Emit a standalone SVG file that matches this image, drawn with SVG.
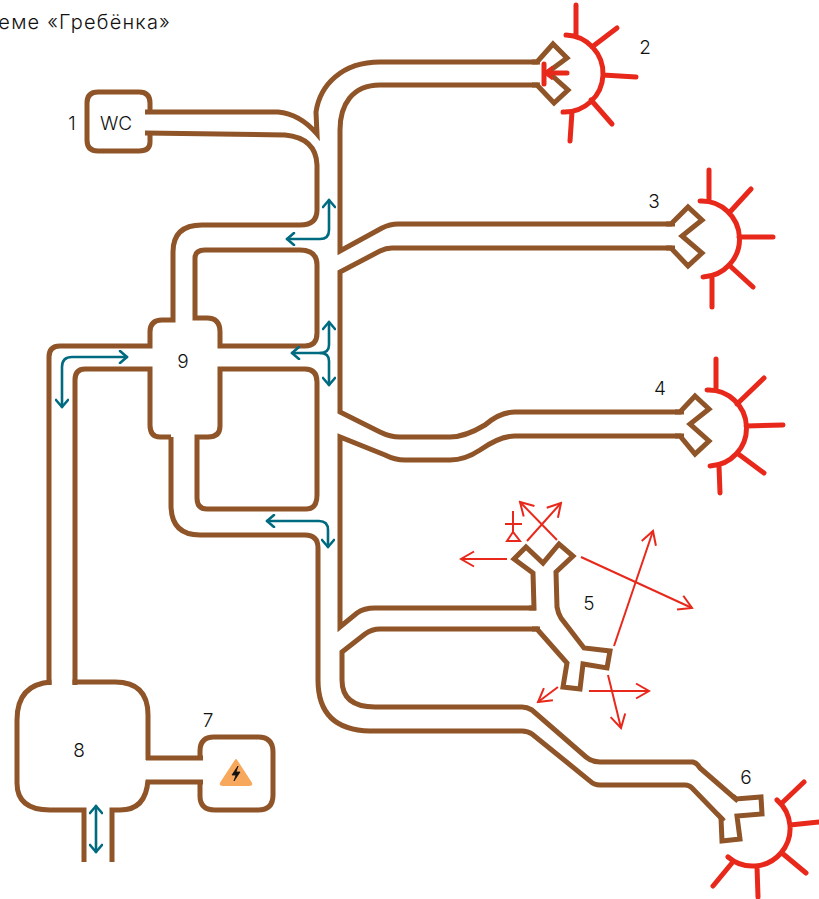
<svg xmlns="http://www.w3.org/2000/svg" width="819" height="899" viewBox="0 0 819 899">
<defs>
<marker id="h" viewBox="0 0 18 18" refX="16" refY="9" markerWidth="18" markerHeight="18" markerUnits="userSpaceOnUse" orient="auto-start-reverse"><path d="M3 1.5L16 9L3 16.5" fill="none" stroke="#E8281A" stroke-width="2"/></marker>
<marker id="t" viewBox="0 0 14 14" refX="12" refY="7" markerWidth="14" markerHeight="14" markerUnits="userSpaceOnUse" orient="auto-start-reverse"><path d="M5 1L12 7L5 13" fill="none" stroke="#006B80" stroke-width="2.6" stroke-linecap="round" stroke-linejoin="round"/></marker>
</defs>
<style>
text{font-family:"Inter","Noto Sans","Liberation Sans",sans-serif;fill:#111;font-size:19px;font-weight:300}
.n{text-anchor:middle}
.p{fill:none;stroke:#8F5427;stroke-width:5;stroke-linejoin:miter}
.r{fill:none;stroke:#E8281A;stroke-width:5;stroke-linecap:round}
.a{fill:none;stroke:#E8281A;stroke-width:2;marker-end:url(#h)}
.t{fill:none;stroke:#006B80;stroke-width:2.6;marker-end:url(#t);stroke-linecap:round}
.ts{marker-start:url(#t)}
</style>
<rect width="819" height="899" fill="#fff"/>
<text x="171" y="29" text-anchor="end" style="font-size:20px;letter-spacing:1.2px">еме «Гребёнка»</text>
<g id="connectors">
<path class="p" d="M145 112L278 112Q300 114 317 134L316 112C320 85 342 62 380 62L540 62"/>
<path class="p" d="M540 85L380 85C352 85 340 105 340 130L340 251L382 228Q390 224 398 224L675 224M675 248L392 248Q386 248 380 251L340 272L340 412L380 432Q390 437 400 437L450 437Q465 437 485 425Q500 412 515 412L684 412M684 436L515 436Q500 436 480 450Q465 460 450 460L405 460Q395 460 385 455L340 437L340 627L357 613Q364 608 375 608L536 608"/>
<path class="p" d="M540 629L380 629Q372 629 365 634L342 652L342 680Q342 707 375 707L522 707Q527 707 532 710L586 757Q592 762 600 762L693 762Q697 763 700 768L738 801M723 820L692 788Q689 785 685 785L600 785Q594 785 590 781L532 734Q528 731 522 731L370 731Q318 730 318 680L318 548Q318 535 305 535L200 535Q171 535 171 505L171 437"/>
<path class="p" d="M145 133L285 135Q316 138 317 165L317 210Q317 225 300 225L202 225Q173 225 173 252L173 320L162 320Q150 320 150 332L150 346L60 346Q49 346 49 357L49 685"/>
<path class="p" d="M195 318L195 258Q195 250 205 250L300 250Q317 250 317 265L317 333Q317 346 305 346L220 346L220 332Q220 318 207 318L195 318Z"/>
<path class="p" d="M220 369L305 369Q317 369 317 382L317 495Q317 509 306 509L207 509Q197 509 197 498L197 437L208 437Q220 437 220 426L220 369Z"/>
<path class="p" d="M171 437L160 437Q150 437 150 425L150 369L85 369Q75 369 75 380L75 685"/>
<path class="p" d="M146 758L203 758M146 782L203 782"/>
<path class="t ts" d="M287 239L320 239Q329 239 329 230L329 200"/>
<path class="t ts" d="M292 353L320 353Q329 353 329 345L329 322"/>
<path class="t" d="M320 353Q329 353 329 361L329 385"/>
<path class="t ts" d="M267 521L319 521Q328 521 328 530L328 547"/>
<path class="t ts" d="M62 407L62 367Q62 357 72 357L127 357"/>
<path class="t ts" d="M96 806L96 852"/>
<path class="a" d="M507 559L461 559"/>
<path class="a" d="M557 540L520 502"/>
<path class="a" d="M527 541L561 503"/>
<path class="a" d="M581 557L692 608"/>
<path class="a" d="M614 646L653 531"/>
<path class="a" d="M558 687L538 702"/>
<path class="a" d="M589 691L649 691"/>
<path class="a" d="M608 675L621 728"/>
</g>
<g id="node-1"><path class="p" d="M150 114L150 103Q150 92 139 92L98 92Q87 92 87 103L87 140Q87 151 98 151L139 151Q150 151 150 142L150 131"/><text class="n" x="72" y="130">1</text><text class="n" x="116" y="130">WC</text></g>
<g id="node-2"><path class="p" d="M532 62L537 62L553 44L567 58L548 72L568 90L554 103L537 85L532 85"/>
<path class="r" d="M566 35A10 10 0 0 1 563 112M576 5L576 36M592 47L617 28M603 75L636 77M591 100L612 124M572 112L570 141"/>
<path class="r" d="M567 73L548 73M544 64L544 84" stroke-width="4"/><path d="M545 73L553 67M545 73L553 79" fill="none" stroke="#E8281A" stroke-width="3"/><text class="n" x="645" y="54">2</text></g>
<g id="node-3"><path class="p" d="M666 224L671 224L688 207L702 220L682 236L702 253L688 266L671 248L666 248"/>
<path class="r" d="M700 201A10 10 0 0 1 703 277M709 170L709 201M729 213L751 189M739 237L773 237M729 265L753 287M712 277L712 307"/><text class="n" x="654" y="208">3</text></g>
<g id="node-4"><path class="p" d="M675 412L680 412L695 396L709 409L690 424L709 441L695 454L680 436L675 436"/>
<path class="r" d="M707 390A10 10 0 0 1 710 466M716 390L716 359M737 404L764 378M746 426L783 425M737 453L764 473M719 466L720 493"/><text class="n" x="660" y="395">4</text></g>
<g id="node-5"><path class="p" d="M529 608L534 608L533 573L514 559L526 547L543 563L559 544L573 556L556 572L557 607Q558 613 561 618L584 648L610 651L607 668L583 664L580 689L563 687L567 663L537 629L532 629"/>
<path d="M513 511L513 532M505 524L522 524M513 532L507 541L520 541Z" fill="none" stroke="#E8281A" stroke-width="2"/><text class="n" x="589" y="610">5</text></g>
<g id="node-6"><path class="p" d="M733 796L736 799L761 797L762 814L737 816L740 839L722 841L721 818L724 821"/>
<path class="r" d="M777 800A10 10 0 0 1 728 857M783 802L804 782M790 825L819 822M782 853L806 873M757 866L758 897M732 863L713 886"/><text class="n" x="746" y="784">6</text></g>
<g id="node-7"><path class="p" d="M200 760L200 751Q200 737 214 737L258 737Q273 737 273 752L273 795Q273 810 258 810L215 810Q200 810 200 796L200 780"/>
<path d="M236 760L251 783Q252 785 249 785L223 785Q220 785 221 783Z" fill="#F7A85C" stroke="#F7A85C" stroke-width="2" stroke-linejoin="round"/><path d="M238 766L232 775L236 775L234 781L240 772L236 772Z" fill="#111" stroke="#111" stroke-width=".8"/><text class="n" x="208" y="727">7</text></g>
<g id="node-8"><path class="p" d="M51.500 682Q17 684 17 720L17 783Q17 810 50 810L84 810L84 862M112 862L112 810L120 810Q146 810 148 780M148 760L148 715Q148 682 115 682L72.500 682"/><text class="n" x="79" y="757">8</text></g>
<g id="node-9"><text class="n" x="183" y="368">9</text></g>
</svg>
